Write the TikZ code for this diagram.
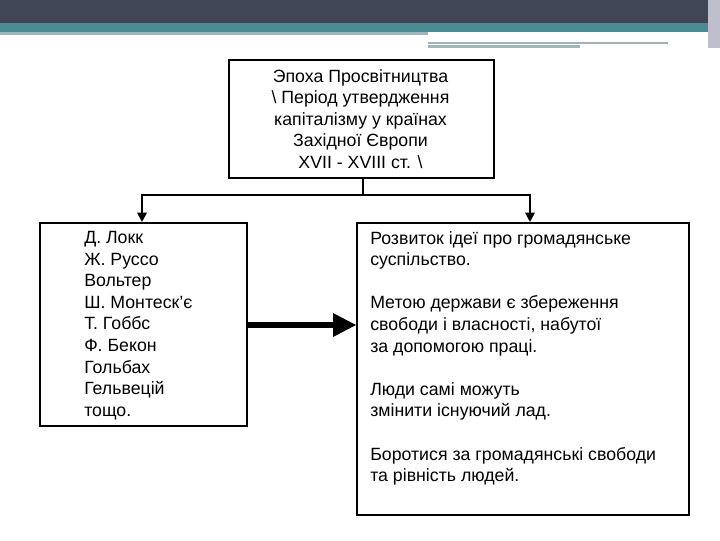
\documentclass[tikz,border=0pt]{standalone}
\usepackage{fontspec}
\setmainfont{Liberation Sans}
\usetikzlibrary{arrows.meta}
\begin{document}
\begin{tikzpicture}[x=0.75pt,y=-0.75pt,
 box/.style={draw,line width=1.6pt,inner sep=0pt},
 txt/.style={font=\fontsize{13.3}{16.2}\selectfont,align=left,anchor=north west,inner sep=0pt},
 conn/.style={line width=2.2pt,-{Triangle[length=7pt,width=7pt]}}]
\useasboundingbox (0,0) rectangle (720,540);
\fill[fill={rgb,255:red,63;green,69;blue,85}] (0,0) rectangle (720,23);
\fill[fill={rgb,255:red,74;green,138;blue,147}] (0,23) rectangle (720,32);
\fill[fill={rgb,255:red,160;green,180;blue,185}] (0,32) rectangle (428,35);
\fill[fill={rgb,255:red,160;green,180;blue,185}] (428,42) rectangle (668,44);
\fill[fill={rgb,255:red,160;green,180;blue,185}] (428,45) rectangle (580,48);
\fill[fill={rgb,255:red,190;green,190;blue,205}] (708,0) rectangle (720,48);
\node[box,minimum width=265*0.75pt,minimum height=118*0.75pt,anchor=north west] (top) at (228,59) {};
\node[font=\fontsize{13.3}{16.2}\selectfont,align=center,inner sep=0pt] (tt) at (360.5,119) {Эпоха Просвітництва\\ \textbackslash{} Період утвердження\\ капіталізму у країнах\\ Західної Європи\\ XVII - XVIII ст. \textbackslash{}};
\node[box,minimum width=207*0.75pt,minimum height=203*0.75pt,anchor=north west] (left) at (39,222) {};
\node[txt] (lt) at (84,231) {Д. Локк\\Ж. Руссо\\Вольтер\\Ш. Монтеск'є\\Т. Гоббс\\Ф. Бекон\\Гольбах\\Гельвецій\\тощо.};
\node[box,minimum width=332*0.75pt,minimum height=292*0.75pt,anchor=north west] (right) at (356,222) {};
\node[txt] (rt) at (370,231) {Розвиток ідеї про громадянське\\суспільство.\\[16.2pt]Метою держави є збереження\\свободи і власності, набутої\\за допомогою праці.\\[16.2pt]Люди самі можуть\\змінити існуючий лад.\\[16.2pt]Боротися за громадянські свободи\\та рівність людей.};
\coordinate (j) at (363,195);
\draw[line width=2.2pt] (top.south -| j) -- (j);
\draw[conn] (j) -| (142,222);
\draw[conn] (j) -| (530,222);
\draw[line width=5pt] (left.east |- 0,325) -- (335,325);
\fill (333,313) -- (356,325) -- (333,337) -- cycle;
\end{tikzpicture}
\end{document}
